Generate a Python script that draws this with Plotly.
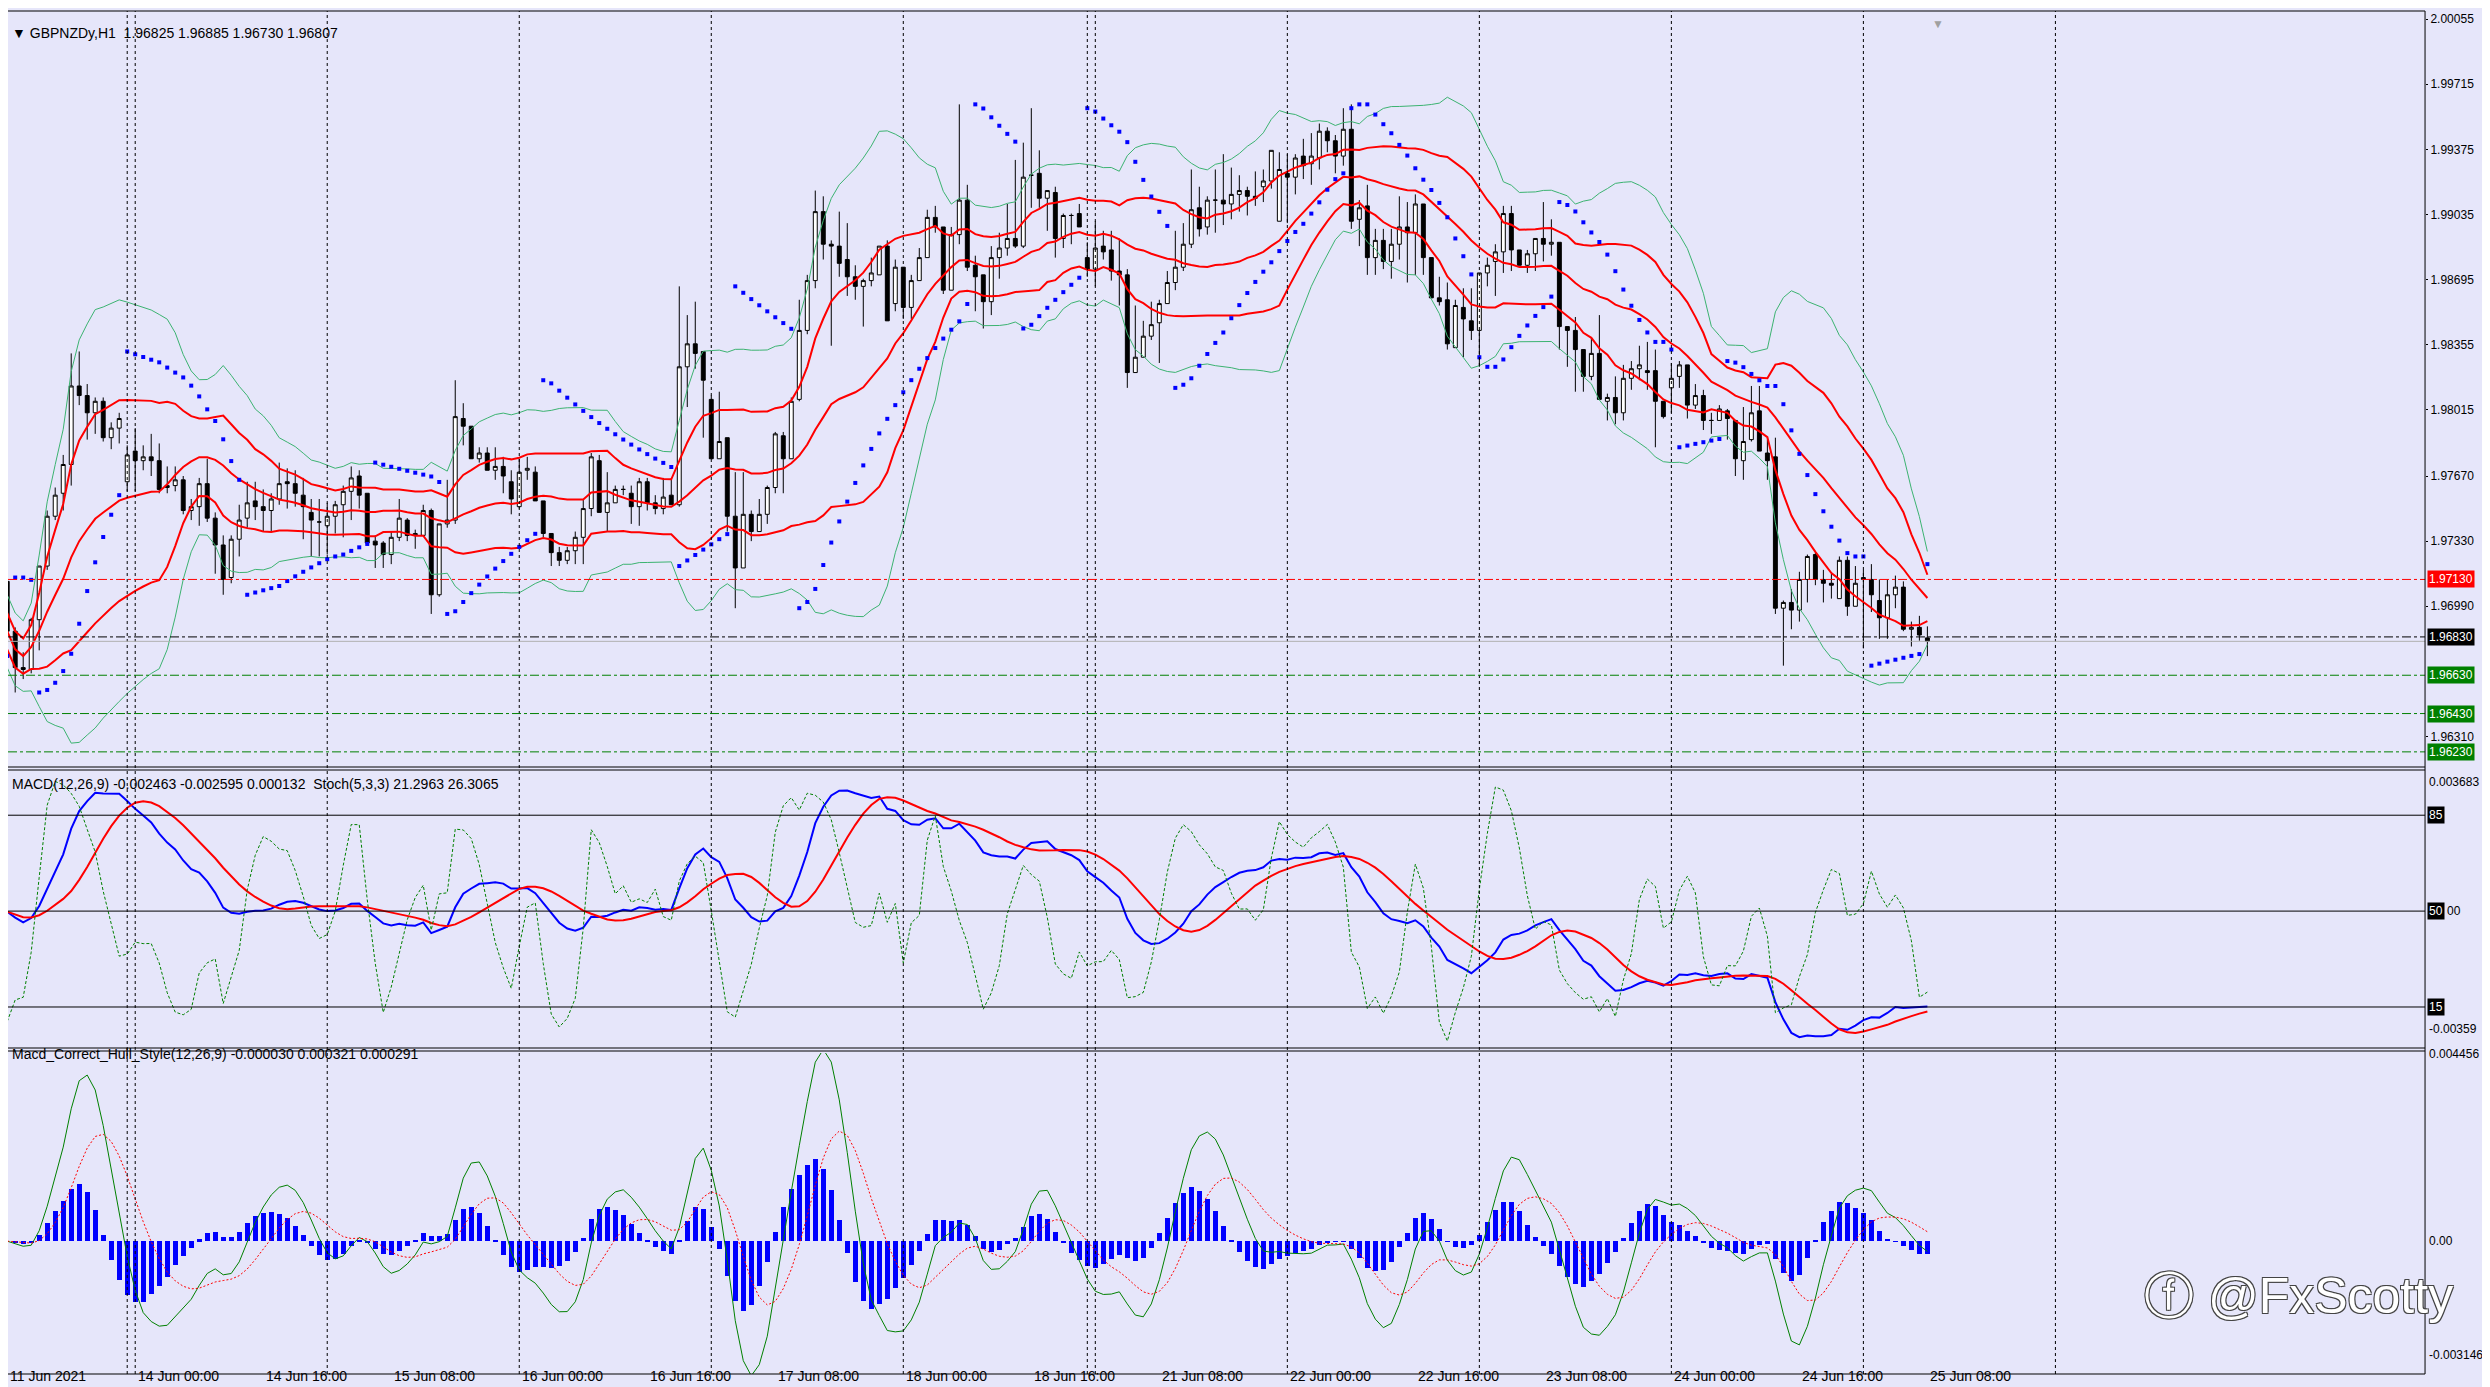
import numpy as np
import pandas as pd
import plotly.graph_objects as go

# ---- GBPNZDy H1 candles, 11 Jun 08:00 -> 25 Jun 08:00 (241 bars) ----
opens = [
    1.9712, 1.9686, 1.9667, 1.9666, 1.9692, 1.9720, 1.9746, 1.9758, 1.9773, 1.9814,
    1.9809, 1.9800, 1.9806, 1.9787, 1.9792, 1.9764, 1.9780, 1.9775, 1.9777, 1.9775,
    1.9761, 1.9762, 1.9765, 1.9749, 1.9751, 1.9763, 1.9745, 1.9731, 1.9714, 1.9734,
    1.9745, 1.9754, 1.9751, 1.9749, 1.9755, 1.9764, 1.9763, 1.9757, 1.9748, 1.9743,
    1.9741, 1.9746, 1.9752, 1.9759, 1.9767, 1.9758, 1.9733, 1.9732, 1.9726, 1.9735,
    1.9744, 1.9736, 1.9736, 1.9749, 1.9705, 1.9742, 1.9744, 1.9797, 1.9793, 1.9776,
    1.9779, 1.9770, 1.9772, 1.9764, 1.9751, 1.9770, 1.9769, 1.9754, 1.9737, 1.9727,
    1.9723, 1.9728, 1.9735, 1.9750, 1.9775, 1.9748, 1.9753, 1.9760, 1.9758, 1.9751,
    1.9764, 1.9753, 1.9750, 1.9757, 1.9752, 1.9824, 1.9836, 1.9832, 1.9807, 1.9776,
    1.9787, 1.9746, 1.9719, 1.9747, 1.9738, 1.9747, 1.9761, 1.9788, 1.9776, 1.9807,
    1.9843, 1.9869, 1.9905, 1.9888, 1.9887, 1.9880, 1.9871, 1.9866, 1.9869, 1.9872,
    1.9887, 1.9857, 1.9876, 1.9855, 1.9869, 1.9881, 1.9902, 1.9897, 1.9864, 1.9893,
    1.9911, 1.9877, 1.9872, 1.9858, 1.9881, 1.9886, 1.9891, 1.9887, 1.9924, 1.9925,
    1.9912, 1.9915, 1.9891, 1.9903, 1.9904, 1.9881, 1.9875, 1.9887, 1.9885, 1.9874,
    1.9872, 1.9821, 1.9829, 1.9840, 1.9847, 1.9857, 1.9868, 1.9876, 1.9888, 1.9907,
    1.9897, 1.9911, 1.9911, 1.9909, 1.9914, 1.9916, 1.9913, 1.9918, 1.9921, 1.9900,
    1.9925, 1.9923, 1.9934, 1.9930, 1.9933, 1.9947, 1.9942, 1.9934, 1.9948, 1.9901,
    1.9908, 1.9881, 1.9890, 1.9879, 1.9888, 1.9897, 1.9894, 1.9909, 1.9881, 1.9860,
    1.9859, 1.9834, 1.9855, 1.9848, 1.9843, 1.9873, 1.9879, 1.9884, 1.9904, 1.9885,
    1.9877, 1.9883, 1.9891, 1.9888, 1.9889, 1.9845, 1.9843, 1.9833, 1.9819, 1.9831,
    1.9806, 1.9808, 1.9800, 1.9818, 1.9823, 1.9822, 1.9822, 1.9806, 1.9813, 1.9819,
    1.9825, 1.9804, 1.9809, 1.9796, 1.9796, 1.9801, 1.9796, 1.9775, 1.9786, 1.9801,
    1.9779, 1.9777, 1.9698, 1.9701, 1.9697, 1.9713, 1.9726, 1.9713, 1.9711, 1.9703,
    1.9723, 1.9699, 1.9713, 1.9713, 1.9702, 1.9693, 1.9705, 1.9709, 1.9687, 1.9688,
    1.96825,
]
highs = [
    1.9714, 1.9688, 1.9675, 1.9693, 1.9720, 1.9749, 1.9761, 1.9778, 1.9831, 1.9832,
    1.9815, 1.9808, 1.9808, 1.9795, 1.9800, 1.9783, 1.9792, 1.9783, 1.9789, 1.9784,
    1.9772, 1.9772, 1.9767, 1.9755, 1.9766, 1.9776, 1.9748, 1.9736, 1.9736, 1.9752,
    1.9764, 1.9764, 1.9760, 1.9758, 1.9774, 1.9771, 1.9770, 1.9766, 1.9755, 1.9755,
    1.9753, 1.9754, 1.9762, 1.9772, 1.9770, 1.9758, 1.9736, 1.9733, 1.9738, 1.9755,
    1.9745, 1.9739, 1.9752, 1.9750, 1.9742, 1.9765, 1.9817, 1.9805, 1.9793, 1.9782,
    1.9782, 1.9782, 1.9777, 1.9770, 1.9776, 1.9777, 1.9772, 1.9754, 1.9737, 1.9730,
    1.9730, 1.9738, 1.9755, 1.9779, 1.9778, 1.9769, 1.9762, 1.9762, 1.9762, 1.9766,
    1.9766, 1.9757, 1.9766, 1.9766, 1.9866, 1.9851, 1.9858, 1.9832, 1.9809, 1.9811,
    1.9787, 1.9769, 1.9769, 1.9749, 1.9755, 1.9762, 1.9790, 1.9790, 1.9808, 1.9859,
    1.9872, 1.9916, 1.9913, 1.9890, 1.9905, 1.9899, 1.9877, 1.9870, 1.9881, 1.9887,
    1.9890, 1.9880, 1.9876, 1.9872, 1.9886, 1.9906, 1.9908, 1.9897, 1.9897, 1.9961,
    1.9919, 1.9882, 1.9872, 1.9887, 1.9894, 1.9909, 1.9932, 1.9941, 1.9959, 1.9937,
    1.9916, 1.9918, 1.9904, 1.9904, 1.9909, 1.9889, 1.9900, 1.9895, 1.9895, 1.9891,
    1.9875, 1.9856, 1.9848, 1.9858, 1.9859, 1.9874, 1.9895, 1.9899, 1.9927, 1.9918,
    1.9913, 1.9927, 1.9935, 1.9928, 1.9924, 1.9918, 1.9926, 1.9927, 1.9937, 1.9936,
    1.9935, 1.9935, 1.9943, 1.9946, 1.9951, 1.9949, 1.9945, 1.9959, 1.9961, 1.9911,
    1.9919, 1.9896, 1.9896, 1.9896, 1.9913, 1.9910, 1.9914, 1.9909, 1.9881, 1.9871,
    1.9868, 1.9859, 1.9865, 1.9865, 1.9873, 1.9881, 1.9888, 1.9908, 1.9908, 1.9885,
    1.9885, 1.9891, 1.9910, 1.9901, 1.9889, 1.9845, 1.9850, 1.9833, 1.9839, 1.9851,
    1.9810, 1.9819, 1.9825, 1.9827, 1.9835, 1.9837, 1.9833, 1.9806, 1.9826, 1.9827,
    1.9825, 1.9815, 1.9812, 1.9800, 1.9804, 1.9802, 1.9796, 1.9803, 1.9814, 1.9814,
    1.9787, 1.9787, 1.9702, 1.9708, 1.9717, 1.9726, 1.9727, 1.9718, 1.9716, 1.9725,
    1.9725, 1.9720, 1.9718, 1.9721, 1.9713, 1.9713, 1.9715, 1.9712, 1.9691, 1.9694,
    1.96885,
]
lows = [
    1.9683, 1.9654, 1.9661, 1.9664, 1.9676, 1.9718, 1.9744, 1.9749, 1.9762, 1.9804,
    1.9786, 1.9789, 1.9785, 1.9781, 1.9784, 1.9759, 1.9759, 1.9770, 1.9767, 1.9758,
    1.9758, 1.9759, 1.9747, 1.9744, 1.9741, 1.9743, 1.9716, 1.9705, 1.9711, 1.9725,
    1.9740, 1.9744, 1.9738, 1.9738, 1.9752, 1.9750, 1.9751, 1.9734, 1.9725, 1.9725,
    1.9726, 1.9737, 1.9735, 1.9744, 1.9750, 1.9732, 1.9719, 1.9719, 1.9721, 1.9733,
    1.9733, 1.9729, 1.9736, 1.9695, 1.9704, 1.9740, 1.9742, 1.9783, 1.9776, 1.9774,
    1.9770, 1.9765, 1.9758, 1.9747, 1.9750, 1.9765, 1.9754, 1.9735, 1.9720, 1.9720,
    1.9721, 1.9721, 1.9721, 1.9746, 1.9748, 1.9738, 1.9753, 1.9757, 1.9742, 1.9741,
    1.9749, 1.9747, 1.9747, 1.9752, 1.9751, 1.9803, 1.9823, 1.9787, 1.9776, 1.9776,
    1.9738, 1.9698, 1.9719, 1.9733, 1.9738, 1.9742, 1.9758, 1.9758, 1.9776, 1.9806,
    1.9841, 1.9865, 1.9880, 1.9835, 1.9871, 1.9861, 1.9859, 1.9845, 1.9866, 1.9872,
    1.9848, 1.9853, 1.9849, 1.9849, 1.9869, 1.9881, 1.9894, 1.9862, 1.9864, 1.9888,
    1.9874, 1.9853, 1.9844, 1.9851, 1.9870, 1.9882, 1.9886, 1.9886, 1.9907, 1.9907,
    1.9895, 1.9881, 1.9886, 1.9888, 1.9897, 1.9871, 1.9866, 1.9880, 1.9869, 1.9856,
    1.9813, 1.9821, 1.9829, 1.9838, 1.9826, 1.9857, 1.9864, 1.9874, 1.9886, 1.9892,
    1.9893, 1.9894, 1.9898, 1.9901, 1.9905, 1.9903, 1.9908, 1.9910, 1.9917, 1.9900,
    1.9899, 1.9914, 1.9922, 1.9919, 1.9927, 1.9936, 1.9925, 1.9929, 1.9896, 1.9887,
    1.9872, 1.9872, 1.9875, 1.9870, 1.9880, 1.9868, 1.9872, 1.9872, 1.9860, 1.9856,
    1.9833, 1.9834, 1.9829, 1.9838, 1.9824, 1.9866, 1.9861, 1.9873, 1.9874, 1.9877,
    1.9873, 1.9874, 1.9879, 1.9882, 1.9833, 1.9824, 1.9811, 1.9811, 1.9817, 1.9807,
    1.9796, 1.9794, 1.9796, 1.9812, 1.9817, 1.9812, 1.9782, 1.9797, 1.9800, 1.9813,
    1.9797, 1.9802, 1.9791, 1.9789, 1.9796, 1.9786, 1.9767, 1.9765, 1.9785, 1.9780,
    1.9765, 1.9695, 1.9668, 1.9687, 1.9691, 1.9701, 1.9710, 1.9701, 1.9703, 1.9703,
    1.9694, 1.9699, 1.9677, 1.9696, 1.9682, 1.9682, 1.9698, 1.9686, 1.9678, 1.9681,
    1.96730,
]
closes = [
    1.9686, 1.9667, 1.9666, 1.9692, 1.9720, 1.9746, 1.9757, 1.9773, 1.9814, 1.9809,
    1.9800, 1.9806, 1.9787, 1.9792, 1.9797, 1.9778, 1.9775, 1.9777, 1.9775, 1.9760,
    1.9762, 1.9765, 1.9749, 1.9751, 1.9763, 1.9745, 1.9731, 1.9713, 1.9734, 1.9744,
    1.9753, 1.9751, 1.9749, 1.9755, 1.9763, 1.9763, 1.9758, 1.9751, 1.9744, 1.9743,
    1.9746, 1.9752, 1.9759, 1.9766, 1.9757, 1.9732, 1.9731, 1.9726, 1.9735, 1.9745,
    1.9736, 1.9737, 1.9749, 1.9705, 1.9742, 1.9744, 1.9798, 1.9793, 1.9776, 1.9779,
    1.9770, 1.9772, 1.9767, 1.9755, 1.9769, 1.9771, 1.9754, 1.9737, 1.9727, 1.9723,
    1.9728, 1.9735, 1.9750, 1.9777, 1.9748, 1.9753, 1.9760, 1.9760, 1.9751, 1.9764,
    1.9753, 1.9750, 1.9756, 1.9752, 1.9824, 1.9836, 1.9831, 1.9817, 1.9776, 1.9785,
    1.9746, 1.9719, 1.9747, 1.9738, 1.9747, 1.9761, 1.9789, 1.9776, 1.9806, 1.9843,
    1.9869, 1.9905, 1.9888, 1.9887, 1.9878, 1.9871, 1.9866, 1.9869, 1.9873, 1.9887,
    1.9848, 1.9876, 1.9855, 1.9869, 1.9881, 1.9902, 1.9897, 1.9864, 1.9893, 1.9911,
    1.9876, 1.9871, 1.9858, 1.9881, 1.9886, 1.9891, 1.9887, 1.9923, 1.9924, 1.9912,
    1.9916, 1.9891, 1.9903, 1.9903, 1.9897, 1.9875, 1.9886, 1.9884, 1.9874, 1.9872,
    1.9821, 1.9829, 1.9840, 1.9846, 1.9857, 1.9868, 1.9876, 1.9888, 1.9906, 1.9896,
    1.9911, 1.9911, 1.9909, 1.9914, 1.9916, 1.9913, 1.9912, 1.9921, 1.9937, 1.9927,
    1.9923, 1.9933, 1.9929, 1.9934, 1.9947, 1.9942, 1.9934, 1.9948, 1.9900, 1.9907,
    1.9881, 1.9890, 1.9879, 1.9888, 1.9897, 1.9894, 1.9909, 1.9881, 1.9860, 1.9858,
    1.9836, 1.9856, 1.9849, 1.9843, 1.9873, 1.9877, 1.9884, 1.9904, 1.9885, 1.9877,
    1.9883, 1.9891, 1.9888, 1.9889, 1.9845, 1.9843, 1.9833, 1.9819, 1.9831, 1.9807,
    1.9808, 1.9800, 1.9818, 1.9823, 1.9825, 1.9821, 1.9806, 1.9798, 1.9818, 1.9825,
    1.9804, 1.9809, 1.9796, 1.9796, 1.9802, 1.9797, 1.9776, 1.9785, 1.9800, 1.9780,
    1.9775, 1.9698, 1.9701, 1.9697, 1.9713, 1.9725, 1.9713, 1.9711, 1.9710, 1.9723,
    1.9699, 1.9711, 1.9714, 1.9705, 1.9693, 1.9705, 1.9709, 1.9687, 1.9688, 1.9684,
    1.96807,
]

# time-axis labels (every 16 bars) and day separators
time_labels = ["11 Jun 2021", "14 Jun 00:00", "14 Jun 16:00", "15 Jun 08:00", "16 Jun 00:00",
               "16 Jun 16:00", "17 Jun 08:00", "18 Jun 00:00", "18 Jun 16:00", "21 Jun 08:00",
               "22 Jun 00:00", "22 Jun 16:00", "23 Jun 08:00", "24 Jun 00:00", "24 Jun 16:00",
               "25 Jun 08:00"]
label_bars = [0, 16, 32, 48, 64, 80, 96, 112, 128, 144, 160, 176, 192, 208, 224, 240]
separator_bars = [15, 16, 40, 64, 88, 112, 135, 136, 160, 184, 208, 232, 256]

price_ticks = [2.00055, 1.99715, 1.99375, 1.99035, 1.98695, 1.98355, 1.98015,
               1.97670, 1.97330, 1.96990, 1.96310]
red_level = 1.97130
bid_level = 1.96830
green_levels = [1.96630, 1.96430, 1.96230]
stoch_levels = [85, 50, 15]

# ---- indicators ----
c = pd.Series(closes)
h = pd.Series(highs)
lo = pd.Series(lows)
x = np.arange(len(closes))

mid = c.rolling(20, min_periods=1).mean()
sd = c.rolling(20, min_periods=2).std(ddof=0).bfill()

def psar(hi, lw, step=0.02, mx=0.2):
    n = len(hi)
    out = np.zeros(n)
    bull, af, ep = True, step, hi[0]
    out[0] = lw[0] - 0.0010
    for i in range(1, n):
        s = out[i-1] + af * (ep - out[i-1])
        if bull:
            s = min(s, lw[i-1], lw[max(i-2, 0)])
            if lw[i] < s:
                bull, s, ep, af = False, ep, lw[i], step
            elif hi[i] > ep:
                ep, af = hi[i], min(af + step, mx)
        else:
            s = max(s, hi[i-1], hi[max(i-2, 0)])
            if hi[i] > s:
                bull, s, ep, af = True, ep, hi[i], step
            elif lw[i] < ep:
                ep, af = lw[i], min(af + step, mx)
        out[i] = s
    return out

sar = psar(highs, lows)

macd = c.ewm(span=12, adjust=False).mean() - c.ewm(span=26, adjust=False).mean()
signal = macd.rolling(9, min_periods=1).mean()

ll = lo.rolling(5, min_periods=1).min()
hh = h.rolling(5, min_periods=1).max()
stoch = 100 * (c - ll).rolling(3, min_periods=1).sum() / (hh - ll).rolling(3, min_periods=1).sum()

def wma(s, n):
    w = np.arange(1, n + 1)
    return s.rolling(n, min_periods=1).apply(lambda a: np.dot(a, w[-len(a):]) / w[-len(a):].sum(), raw=True)

def hma(s, n):
    return wma(2 * wma(s, n // 2) - wma(s, n), int(np.sqrt(n)))

# hull-style macd: line from hull averages, signal an ema of it
raw_hull = hma(c, 12) - hma(c, 26)
raw_sig = raw_hull.ewm(span=9, adjust=False).mean()
hull_line = 0.6 * raw_hull
hull_sig = 0.6 * raw_sig
hull_hist = 0.4 * (raw_hull - raw_sig)

# ---- figure ----
BG = "#E6E6FA"
FONT = "Liberation Sans, Arial, sans-serif"
XR = 0.9707
def py(v):  # pixel row -> paper
    return 1 - v / 1387

fig = go.Figure()
fig.add_trace(go.Scatter(x=x, y=mid + 2 * sd, mode="lines", line=dict(color="#3CB371", width=1)))
fig.add_trace(go.Scatter(x=x, y=mid - 2 * sd, mode="lines", line=dict(color="#3CB371", width=1)))
for k in (1, 0, -1):
    fig.add_trace(go.Scatter(x=x, y=mid + k * sd, mode="lines", line=dict(color="#FF0000", width=2)))
fig.add_trace(go.Scatter(x=x, y=sar, mode="markers", marker=dict(color="#0000FF", size=4, symbol="square")))
fig.add_trace(go.Candlestick(
    x=x, open=opens, high=highs, low=lows, close=closes, whiskerwidth=0,
    increasing=dict(line=dict(color="black", width=1), fillcolor="white"),
    decreasing=dict(line=dict(color="black", width=1), fillcolor="black")))

fig.add_trace(go.Scatter(x=x, y=stoch, mode="lines", yaxis="y4",
                         line=dict(color="#008000", width=1, dash="3px,2px")))
fig.add_trace(go.Scatter(x=x, y=macd, mode="lines", yaxis="y2", line=dict(color="#0000FF", width=2)))
fig.add_trace(go.Scatter(x=x, y=signal, mode="lines", yaxis="y2", line=dict(color="#FF0000", width=2)))

fig.add_trace(go.Bar(x=x, y=hull_hist, yaxis="y3", marker=dict(color="#0000FF", line_width=0), width=0.6))
fig.add_trace(go.Scatter(x=x, y=hull_line, mode="lines", yaxis="y3", line=dict(color="#008000", width=1)))
fig.add_trace(go.Scatter(x=x, y=hull_sig, mode="lines", yaxis="y3", line=dict(color="#FF0000", width=1, dash="2px,2px")))

shapes = []
for b in separator_bars:
    shapes.append(dict(type="line", xref="x", yref="paper", x0=b, x1=b, y0=py(1366), y1=py(3),
                       line=dict(color="black", width=1, dash="3px,3px")))
def hline(v, color, dash, yref="y", width=1):
    shapes.append(dict(type="line", xref="x domain", yref=yref, x0=0, x1=1, y0=v, y1=v,
                       line=dict(color=color, width=width, dash=dash)))
hline(red_level, "#FF0000", "dashdot")
hline(bid_level, "black", "dashdot")
hline(closes[-1], "#B0B0B0", "solid")
for g in green_levels:
    hline(g, "#008000", "dashdot")
for s in stoch_levels:
    hline(s, "black", "solid", yref="y4")
for r in (3, 759, 762, 1040, 1043, 1366):
    shapes.append(dict(type="line", xref="paper", yref="paper", x0=0, x1=XR, y0=py(r), y1=py(r),
                       line=dict(color="black", width=1)))
shapes.append(dict(type="line", xref="paper", yref="paper", x0=XR, x1=XR, y0=py(1366), y1=py(3),
                   line=dict(color="black", width=1)))

ann = []
def label(xv, yv, text, xref="paper", yref="paper", size=14, color="black", anchor="left", **kw):
    ann.append(dict(x=xv, y=yv, xref=xref, yref=yref, text=text, showarrow=False, xanchor=anchor,
                    font=dict(family=FONT, size=size, color=color), **kw))

label(0.001, py(15), "▼ GBPNZDy,H1  1.96825 1.96885 1.96730 1.96807", size=14)
label(0.001, py(776), "MACD(12,26,9) -0.002463 -0.002595 0.000132  Stoch(5,3,3) 21.2963 26.3065", size=14)
label(0.001, py(1056), "Macd_Correct_Hull_Style(12,26,9) -0.000030 0.000321 0.000291", size=14)
label(1930 / 2490, py(7), "▼", size=12, color="#A0A0A0", anchor="center")
for b, t in zip(label_bars, time_labels):
    label(b * 8 / 2490, py(1378), t, size=14)
bx = XR + 2 / 2490
for v, col in [(red_level, "#FF0000"), (bid_level, "black")] + [(g, "#008000") for g in green_levels]:
    label(bx, v, f"{v:.5f}", yref="y", size=12, color="white", bgcolor=col, borderpad=1)
label(bx, py(774), "0.003683", size=12)
label(bx, py(1030), "-0.00359", size=12)
label(bx + 18 / 2490, 50, "00", yref="y4", size=12)
for s in stoch_levels:
    label(bx, s, str(s), yref="y4", size=12, color="white", bgcolor="black", borderpad=1)
label(bx, py(1055), "0.004456", size=12)
label(bx, 0, "0.00", yref="y3", size=12)
label(bx, py(1356), "-0.003146", size=12)
ann.append(dict(x=2290 / 2490, y=py(1318), xref="paper", yref="paper", showarrow=False,
                text="ⓕ @FxScotty", xanchor="center",
                font=dict(family=FONT, size=50, color="white",
                          shadow="-1px -1px 0 #444, 1px -1px 0 #444, -1px 1px 0 #444, 1px 1px 0 #444")))

fig.update_layout(
    width=2490, height=1387, paper_bgcolor=BG, plot_bgcolor=BG, showlegend=False,
    margin=dict(l=0, r=0, t=0, b=0), bargap=0, shapes=shapes, annotations=ann,
    xaxis=dict(domain=[0, XR], range=[0.1, 302.2], anchor="y3", showgrid=False, zeroline=False,
               showticklabels=False, rangeslider=dict(visible=False)),
    yaxis=dict(domain=[py(759), py(0)], range=[1.96151, 2.00113], side="right", anchor="x",
               tickvals=price_ticks, ticktext=[f"{v:.5f}" for v in price_ticks],
               ticks="outside", ticklen=2, tickcolor="black", showgrid=False, zeroline=False,
               tickfont=dict(family=FONT, size=12, color="black")),
    yaxis2=dict(domain=[py(1042), py(762)], range=[-0.00359, 0.003683], anchor="x",
                showgrid=False, zeroline=False, showticklabels=False),
    yaxis4=dict(overlaying="y2", range=[-0.7, 101.5], showgrid=False, zeroline=False, showticklabels=False),
    yaxis3=dict(domain=[py(1366), py(1045)], range=[-0.003146, 0.004456], anchor="x",
                showgrid=False, zeroline=False, showticklabels=False),
)
fig.write_html("out.html")
